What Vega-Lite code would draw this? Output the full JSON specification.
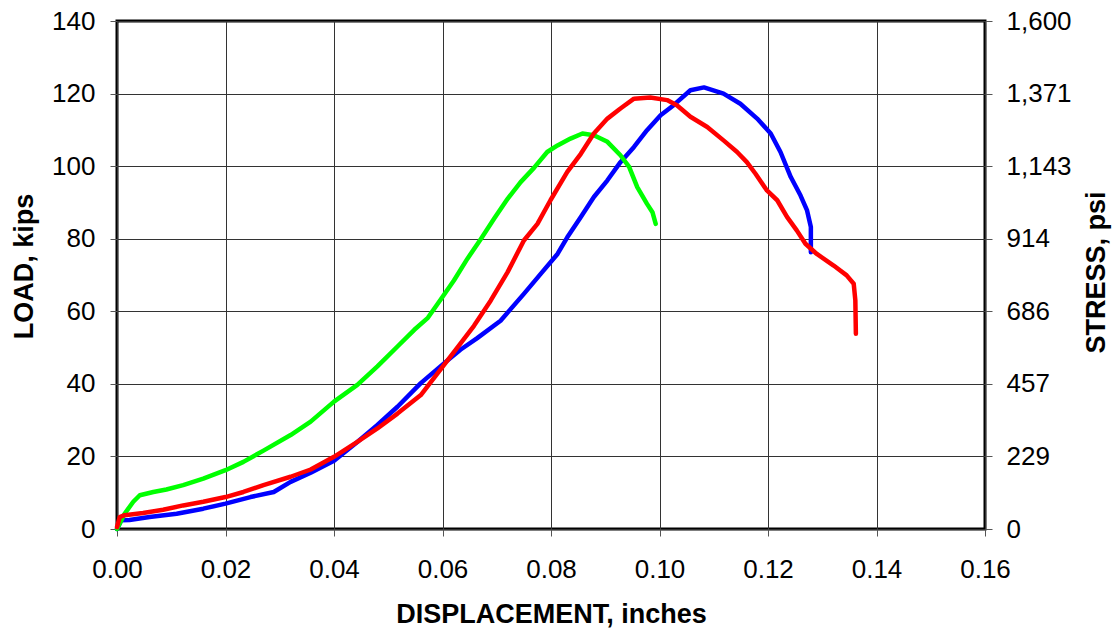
{
  "$schema": "https://vega.github.io/schema/vega-lite/v6.json",
  "width": 868,
  "height": 508,
  "autosize": {"type": "none"},
  "padding": {"left": 117, "top": 21, "right": 129, "bottom": 99},
  "background": "white",
  "config": {
    "font": "Liberation Sans",
    "view": {"stroke": "black", "strokeWidth": 3},
    "axis": {
      "domain": false,
      "labelFont": "Liberation Sans",
      "labelFontSize": 26,
      "labelColor": "black",
      "titleFont": "Liberation Sans",
      "titleFontSize": 27,
      "titleFontWeight": "bold",
      "titleColor": "black",
      "tickColor": "#555555",
      "tickSize": 7,
      "tickWidth": 1,
      "gridColor": "#333333",
      "gridWidth": 1,
      "gridOpacity": 1
    }
  },
  "data": {
    "values": [
      {"s": "A", "i": 0, "d": 0, "load": 0},
      {"s": "A", "i": 1, "d": 0.0008, "load": 2.4},
      {"s": "A", "i": 2, "d": 0.0023, "load": 2.5},
      {"s": "A", "i": 3, "d": 0.006, "load": 3.3},
      {"s": "A", "i": 4, "d": 0.011, "load": 4.2},
      {"s": "A", "i": 5, "d": 0.0159, "load": 5.6},
      {"s": "A", "i": 6, "d": 0.020, "load": 7.0},
      {"s": "A", "i": 7, "d": 0.0246, "load": 8.8},
      {"s": "A", "i": 8, "d": 0.0289, "load": 10.2},
      {"s": "A", "i": 9, "d": 0.032, "load": 13.0},
      {"s": "A", "i": 10, "d": 0.0357, "load": 15.5},
      {"s": "A", "i": 11, "d": 0.040, "load": 18.8},
      {"s": "A", "i": 12, "d": 0.0443, "load": 24.0},
      {"s": "A", "i": 13, "d": 0.048, "load": 28.7},
      {"s": "A", "i": 14, "d": 0.0517, "load": 33.7},
      {"s": "A", "i": 15, "d": 0.056, "load": 40.2},
      {"s": "A", "i": 16, "d": 0.060, "load": 45.3},
      {"s": "A", "i": 17, "d": 0.0633, "load": 49.4},
      {"s": "A", "i": 18, "d": 0.0664, "load": 52.6},
      {"s": "A", "i": 19, "d": 0.0707, "load": 57.4},
      {"s": "A", "i": 20, "d": 0.0750, "load": 64.8},
      {"s": "A", "i": 21, "d": 0.0781, "load": 70.3},
      {"s": "A", "i": 22, "d": 0.0812, "load": 75.8},
      {"s": "A", "i": 23, "d": 0.0830, "load": 80.4},
      {"s": "A", "i": 24, "d": 0.0855, "load": 86.0},
      {"s": "A", "i": 25, "d": 0.0879, "load": 91.5},
      {"s": "A", "i": 26, "d": 0.0904, "load": 96.1},
      {"s": "A", "i": 27, "d": 0.0928, "load": 101.1},
      {"s": "A", "i": 28, "d": 0.0953, "load": 105.3},
      {"s": "A", "i": 29, "d": 0.0977, "load": 109.9},
      {"s": "A", "i": 30, "d": 0.1002, "load": 114.0},
      {"s": "A", "i": 31, "d": 0.1026, "load": 116.8},
      {"s": "A", "i": 32, "d": 0.1057, "load": 120.9},
      {"s": "A", "i": 33, "d": 0.1082, "load": 121.7},
      {"s": "A", "i": 34, "d": 0.1118, "load": 120.0},
      {"s": "A", "i": 35, "d": 0.1149, "load": 117.2},
      {"s": "A", "i": 36, "d": 0.1180, "load": 113.1},
      {"s": "A", "i": 37, "d": 0.1205, "load": 109.0},
      {"s": "A", "i": 38, "d": 0.1223, "load": 103.9},
      {"s": "A", "i": 39, "d": 0.1242, "load": 97.0},
      {"s": "A", "i": 40, "d": 0.1260, "load": 91.9},
      {"s": "A", "i": 41, "d": 0.1272, "load": 87.8},
      {"s": "A", "i": 42, "d": 0.1279, "load": 83.2},
      {"s": "A", "i": 43, "d": 0.1279, "load": 76.3},

      {"s": "B", "i": 0, "d": 0, "load": 0},
      {"s": "B", "i": 1, "d": 0.0014, "load": 4.2},
      {"s": "B", "i": 2, "d": 0.0030, "load": 7.5},
      {"s": "B", "i": 3, "d": 0.0042, "load": 9.3},
      {"s": "B", "i": 4, "d": 0.0067, "load": 10.2},
      {"s": "B", "i": 5, "d": 0.0091, "load": 10.9},
      {"s": "B", "i": 6, "d": 0.0122, "load": 12.1},
      {"s": "B", "i": 7, "d": 0.0159, "load": 13.9},
      {"s": "B", "i": 8, "d": 0.020, "load": 16.2},
      {"s": "B", "i": 9, "d": 0.0233, "load": 18.5},
      {"s": "B", "i": 10, "d": 0.0270, "load": 21.6},
      {"s": "B", "i": 11, "d": 0.0320, "load": 25.9},
      {"s": "B", "i": 12, "d": 0.0357, "load": 29.6},
      {"s": "B", "i": 13, "d": 0.040, "load": 35.1},
      {"s": "B", "i": 14, "d": 0.0443, "load": 39.7},
      {"s": "B", "i": 15, "d": 0.048, "load": 44.8},
      {"s": "B", "i": 16, "d": 0.0517, "load": 50.3},
      {"s": "B", "i": 17, "d": 0.0548, "load": 54.9},
      {"s": "B", "i": 18, "d": 0.0573, "load": 58.2},
      {"s": "B", "i": 19, "d": 0.0597, "load": 63.3},
      {"s": "B", "i": 20, "d": 0.0621, "load": 68.5},
      {"s": "B", "i": 21, "d": 0.0646, "load": 74.5},
      {"s": "B", "i": 22, "d": 0.0671, "load": 80.0},
      {"s": "B", "i": 23, "d": 0.0695, "load": 85.5},
      {"s": "B", "i": 24, "d": 0.0720, "load": 91.0},
      {"s": "B", "i": 25, "d": 0.0744, "load": 95.6},
      {"s": "B", "i": 26, "d": 0.0769, "load": 99.6},
      {"s": "B", "i": 27, "d": 0.0793, "load": 103.9},
      {"s": "B", "i": 28, "d": 0.0812, "load": 105.7},
      {"s": "B", "i": 29, "d": 0.0836, "load": 107.6},
      {"s": "B", "i": 30, "d": 0.0858, "load": 109.0},
      {"s": "B", "i": 31, "d": 0.0879, "load": 108.5},
      {"s": "B", "i": 32, "d": 0.0904, "load": 106.7},
      {"s": "B", "i": 33, "d": 0.0928, "load": 103.0},
      {"s": "B", "i": 34, "d": 0.0944, "load": 99.8},
      {"s": "B", "i": 35, "d": 0.0959, "load": 94.2},
      {"s": "B", "i": 36, "d": 0.0977, "load": 89.6},
      {"s": "B", "i": 37, "d": 0.0987, "load": 87.3},
      {"s": "B", "i": 38, "d": 0.0993, "load": 84.1},

      {"s": "C", "i": 0, "d": 0, "load": 0.5},
      {"s": "C", "i": 1, "d": 0.0005, "load": 3.3},
      {"s": "C", "i": 2, "d": 0.0014, "load": 3.8},
      {"s": "C", "i": 3, "d": 0.0048, "load": 4.4},
      {"s": "C", "i": 4, "d": 0.0085, "load": 5.3},
      {"s": "C", "i": 5, "d": 0.0122, "load": 6.5},
      {"s": "C", "i": 6, "d": 0.0159, "load": 7.5},
      {"s": "C", "i": 7, "d": 0.020, "load": 8.8},
      {"s": "C", "i": 8, "d": 0.0233, "load": 10.2},
      {"s": "C", "i": 9, "d": 0.0270, "load": 12.1},
      {"s": "C", "i": 10, "d": 0.0320, "load": 14.4},
      {"s": "C", "i": 11, "d": 0.0357, "load": 16.4},
      {"s": "C", "i": 12, "d": 0.040, "load": 19.9},
      {"s": "C", "i": 13, "d": 0.0443, "load": 24.0},
      {"s": "C", "i": 14, "d": 0.048, "load": 27.7},
      {"s": "C", "i": 15, "d": 0.0517, "load": 31.8},
      {"s": "C", "i": 16, "d": 0.056, "load": 36.9},
      {"s": "C", "i": 17, "d": 0.060, "load": 44.7},
      {"s": "C", "i": 18, "d": 0.0627, "load": 49.9},
      {"s": "C", "i": 19, "d": 0.0658, "load": 56.0},
      {"s": "C", "i": 20, "d": 0.0689, "load": 63.0},
      {"s": "C", "i": 21, "d": 0.0720, "load": 70.8},
      {"s": "C", "i": 22, "d": 0.0750, "load": 79.5},
      {"s": "C", "i": 23, "d": 0.0775, "load": 84.1},
      {"s": "C", "i": 24, "d": 0.0799, "load": 90.6},
      {"s": "C", "i": 25, "d": 0.0830, "load": 98.4},
      {"s": "C", "i": 26, "d": 0.0855, "load": 103.4},
      {"s": "C", "i": 27, "d": 0.0879, "load": 109.0},
      {"s": "C", "i": 28, "d": 0.0904, "load": 113.1},
      {"s": "C", "i": 29, "d": 0.0928, "load": 115.9},
      {"s": "C", "i": 30, "d": 0.0953, "load": 118.6},
      {"s": "C", "i": 31, "d": 0.0983, "load": 118.9},
      {"s": "C", "i": 32, "d": 0.1014, "load": 118.2},
      {"s": "C", "i": 33, "d": 0.1032, "load": 116.8},
      {"s": "C", "i": 34, "d": 0.1057, "load": 113.6},
      {"s": "C", "i": 35, "d": 0.1088, "load": 110.8},
      {"s": "C", "i": 36, "d": 0.1118, "load": 107.1},
      {"s": "C", "i": 37, "d": 0.1143, "load": 103.9},
      {"s": "C", "i": 38, "d": 0.1161, "load": 101.1},
      {"s": "C", "i": 39, "d": 0.1177, "load": 97.9},
      {"s": "C", "i": 40, "d": 0.1198, "load": 93.3},
      {"s": "C", "i": 41, "d": 0.1217, "load": 90.6},
      {"s": "C", "i": 42, "d": 0.1235, "load": 86.0},
      {"s": "C", "i": 43, "d": 0.1253, "load": 82.3},
      {"s": "C", "i": 44, "d": 0.1269, "load": 78.6},
      {"s": "C", "i": 45, "d": 0.1290, "load": 75.8},
      {"s": "C", "i": 46, "d": 0.1321, "load": 72.6},
      {"s": "C", "i": 47, "d": 0.1345, "load": 69.9},
      {"s": "C", "i": 48, "d": 0.1358, "load": 67.6},
      {"s": "C", "i": 49, "d": 0.1361, "load": 63.0},
      {"s": "C", "i": 50, "d": 0.1362, "load": 53.8}
    ]
  },
  "encoding": {
    "x": {
      "field": "d",
      "type": "quantitative",
      "scale": {"domain": [0, 0.16], "nice": false, "zero": false},
      "axis": {
        "values": [0, 0.02, 0.04, 0.06, 0.08, 0.1, 0.12, 0.14, 0.16],
        "format": ".2f",
        "labelBaseline": "alphabetic",
        "labelPadding": 41,
        "labelFlush": false,
        "labelOverlap": false,
        "title": "DISPLACEMENT, inches",
        "titleBaseline": "alphabetic",
        "titleY": 93
      }
    },
    "order": {"field": "i", "type": "quantitative"}
  },
  "layer": [
    {
      "mark": {"type": "line", "strokeWidth": 4.5, "strokeJoin": "round", "strokeCap": "round"},
      "encoding": {
        "y": {
          "field": "load",
          "type": "quantitative",
          "scale": {"domain": [0, 140], "nice": false},
          "axis": {
            "orient": "left",
            "values": [0, 20, 40, 60, 80, 100, 120, 140],
            "format": "d",
            "labelPadding": 15,
            "labelFlush": false,
            "labelOverlap": false,
            "title": "LOAD, kips",
            "titleAngle": -90,
            "titleX": -93,
            "titleY": 245,
            "titleAlign": "center",
            "titleBaseline": "middle"
          }
        },
        "color": {
          "field": "s",
          "type": "nominal",
          "scale": {"domain": ["A", "B", "C"], "range": ["#0000ff", "#00ff00", "#ff0000"]},
          "legend": null
        }
      }
    },
    {
      "mark": {"type": "line", "opacity": 0},
      "encoding": {
        "y": {
          "field": "load",
          "type": "quantitative",
          "scale": {"domain": [0, 140], "nice": false},
          "axis": {
            "orient": "right",
            "values": [0, 20, 40, 60, 80, 100, 120, 140],
            "labelExpr": "format(datum.value * 1600 / 140, ',.0f')",
            "labelPadding": 14,
            "labelFlush": false,
            "labelOverlap": false,
            "grid": false,
            "title": "STRESS, psi",
            "titleAngle": -90,
            "titleX": 111,
            "titleY": 251,
            "titleAlign": "center",
            "titleBaseline": "middle"
          }
        },
        "detail": {"field": "s", "type": "nominal"}
      }
    }
  ],
  "resolve": {"axis": {"y": "independent"}}
}
